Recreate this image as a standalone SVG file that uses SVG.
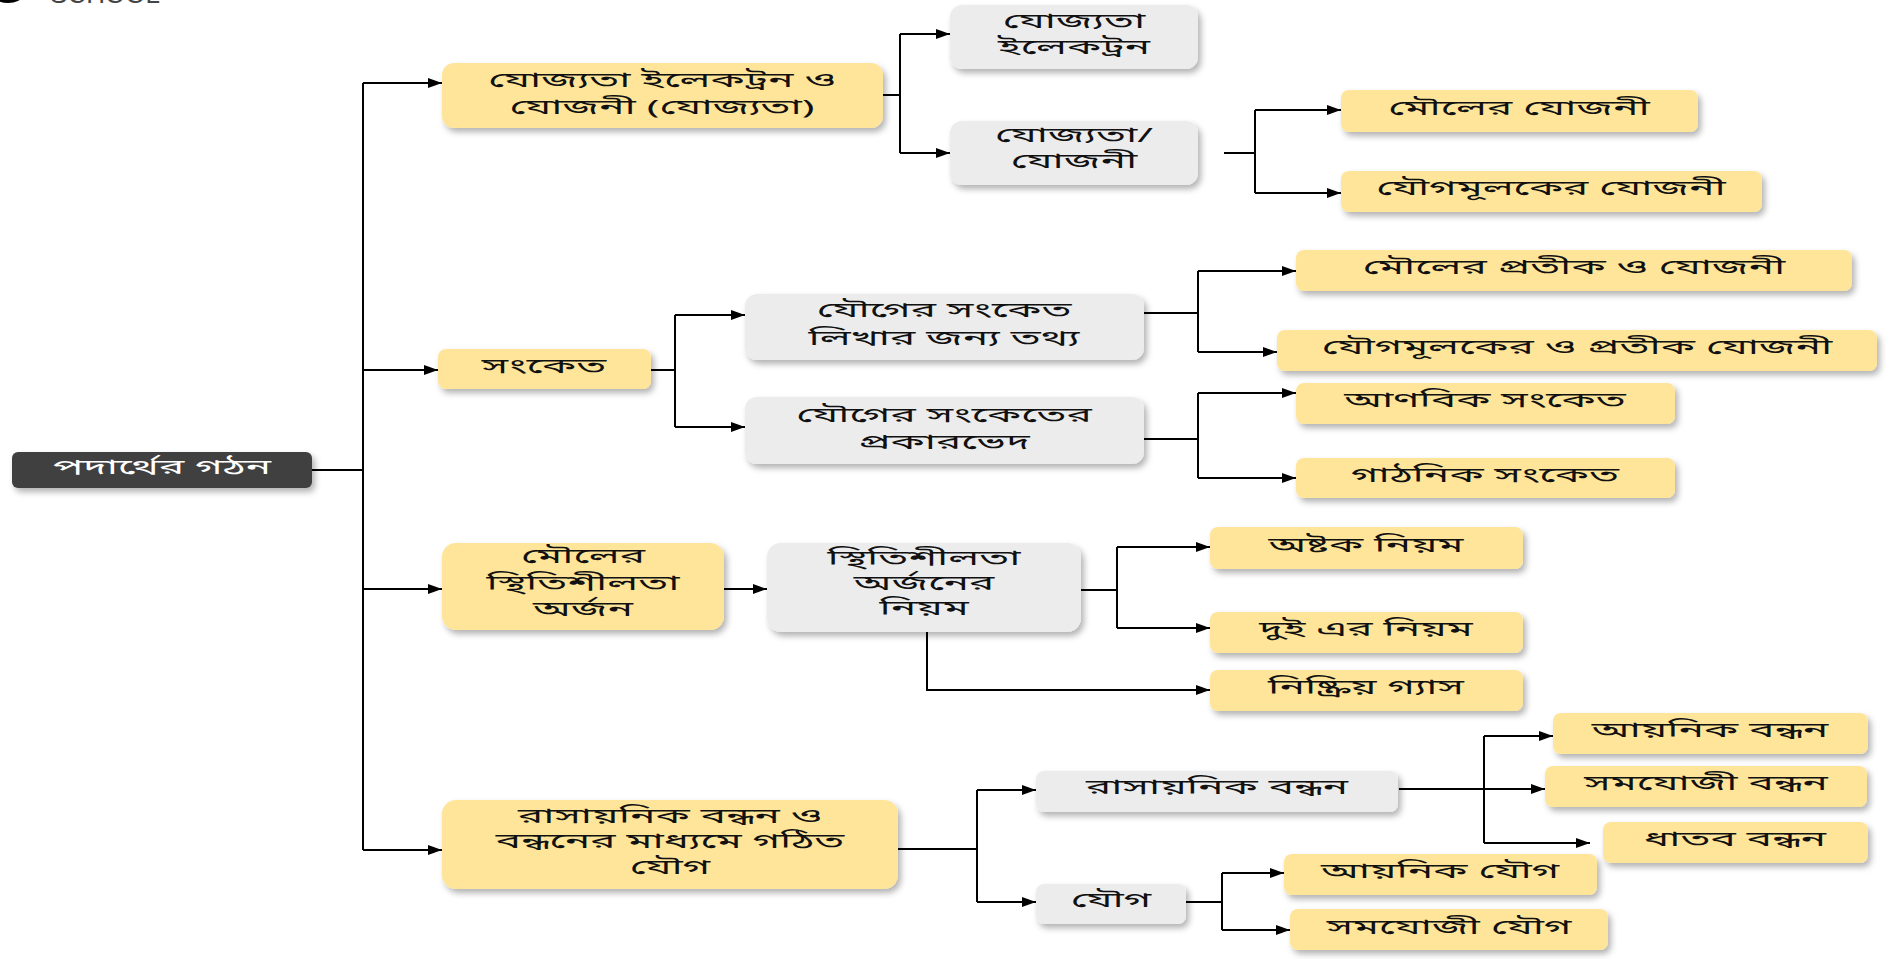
<svg xmlns="http://www.w3.org/2000/svg" width="1888" height="959" viewBox="0 0 1888 959">
<defs>
<filter id="sh" x="-10%" y="-30%" width="130%" height="180%">
<feDropShadow dx="3" dy="4" stdDeviation="3" flood-color="#000" flood-opacity="0.3"/>
</filter>
<marker id="ah" viewBox="0 0 14 10" markerWidth="14" markerHeight="10" refX="14" refY="5" orient="auto" markerUnits="userSpaceOnUse">
<path d="M0,0 L14,5 L0,10 z" fill="#000"/>
</marker>
<style>
.y{fill:#FFE599;filter:url(#sh)}
.g{fill:#ECECEC;filter:url(#sh)}
.d{fill:#404040;filter:url(#sh)}
text{font-family:"Noto Sans Bengali","Lohit Bengali","Noto Sans",sans-serif;font-size:20px;text-anchor:middle;dominant-baseline:central;fill:#111}
.w{fill:#fff}
.c path{fill:none;stroke:#000;stroke-width:2}
.c .a{marker-end:url(#ah)}
</style>
</defs>
<rect width="1888" height="959" fill="#fff"/>
<g id="logo">
<ellipse cx="8" cy="-4" rx="14" ry="7" fill="#000"/>
<text x="105" y="-6" style="font-family:'Liberation Sans',sans-serif;font-size:26px;fill:#444">SCHOOL</text>
</g>
<g class="c" id="connectors">
<path d="M312,470 H363 M363,83 V850"/>
<path class="a" d="M363,83 H442"/>
<path class="a" d="M363,370 H438"/>
<path class="a" d="M363,589 H442"/>
<path class="a" d="M363,850 H442"/>
<path d="M883,95 H900 M900,34 V153"/>
<path class="a" d="M900,34 H950"/>
<path class="a" d="M900,153 H950"/>
<path d="M1224,153 H1255 M1255,110 V193"/>
<path class="a" d="M1255,110 H1341"/>
<path class="a" d="M1255,193 H1341"/>
<path d="M651,370 H675 M675,315 V427"/>
<path class="a" d="M675,315 H745"/>
<path class="a" d="M675,427 H745"/>
<path d="M1144,313 H1198 M1198,271 V352"/>
<path class="a" d="M1198,271 H1296"/>
<path class="a" d="M1198,352 H1277"/>
<path d="M1144,439 H1198 M1198,393 V478"/>
<path class="a" d="M1198,393 H1296"/>
<path class="a" d="M1198,478 H1296"/>
<path class="a" d="M724,589 H767"/>
<path d="M1081,590 H1117 M1117,547 V628"/>
<path class="a" d="M1117,547 H1210"/>
<path class="a" d="M1117,628 H1210"/>
<path class="a" d="M927,632 V690 H1210"/>
<path d="M898,849 H977 M977,790 V902"/>
<path class="a" d="M977,790 H1036"/>
<path class="a" d="M977,902 H1036"/>
<path class="a" d="M1399,789 H1545"/>
<path d="M1484,736 V843"/>
<path class="a" d="M1484,736 H1553"/>
<path class="a" d="M1484,843 H1590"/>
<path d="M1186,902 H1222 M1222,873 V930"/>
<path class="a" d="M1222,873 H1284"/>
<path class="a" d="M1222,930 H1290"/>
</g>
<g id="root"><rect class="d" x="12" y="452" width="300" height="36" rx="6"/><text class="w" transform="translate(162,469) scale(2.12,1)">পদার্থের গঠন</text></g>
<g id="n-a"><rect class="y" x="442" y="63" width="441" height="65" rx="12"/><text transform="translate(662,82) scale(2.12,1)">যোজ্যতা ইলেকট্রন ও</text><text transform="translate(662,109) scale(2.12,1)">যোজনী (যোজ্যতা)</text></g>
<g id="n-a1"><rect class="g" x="950" y="5" width="248" height="64" rx="12"/><text transform="translate(1074,23) scale(2.12,1)">যোজ্যতা</text><text transform="translate(1074,49) scale(2.12,1)">ইলেকট্রন</text></g>
<g id="n-a2"><rect class="g" x="950" y="121" width="248" height="64" rx="12"/><text transform="translate(1074,137) scale(2.12,1)">যোজ্যতা/</text><text transform="translate(1074,163) scale(2.12,1)">যোজনী</text></g>
<g id="n-a2a"><rect class="y" x="1341" y="90" width="357" height="42" rx="8"/><text transform="translate(1519,110) scale(2.12,1)">মৌলের যোজনী</text></g>
<g id="n-a2b"><rect class="y" x="1341" y="171" width="421" height="41" rx="8"/><text transform="translate(1551,190) scale(2.12,1)">যৌগমূলকের যোজনী</text></g>
<g id="n-b"><rect class="y" x="438" y="349" width="213" height="40" rx="8"/><text transform="translate(544,368) scale(2.12,1)">সংকেত</text></g>
<g id="n-b1"><rect class="g" x="745" y="294" width="399" height="66" rx="12"/><text transform="translate(944,312) scale(2.12,1)">যৌগের সংকেত</text><text transform="translate(944,340) scale(2.12,1)">লিখার জন্য তথ্য</text></g>
<g id="n-b2"><rect class="g" x="745" y="397" width="399" height="67" rx="12"/><text transform="translate(944,417) scale(2.12,1)">যৌগের সংকেতের</text><text transform="translate(944,444) scale(2.12,1)">প্রকারভেদ</text></g>
<g id="n-b1a"><rect class="y" x="1296" y="250" width="556" height="41" rx="8"/><text transform="translate(1574,269) scale(2.12,1)">মৌলের প্রতীক ও যোজনী</text></g>
<g id="n-b1b"><rect class="y" x="1277" y="330" width="600" height="41" rx="8"/><text transform="translate(1577,349) scale(2.12,1)">যৌগমূলকের ও প্রতীক যোজনী</text></g>
<g id="n-b2a"><rect class="y" x="1296" y="383" width="379" height="41" rx="8"/><text transform="translate(1485,402) scale(2.12,1)">আণবিক সংকেত</text></g>
<g id="n-b2b"><rect class="y" x="1296" y="458" width="379" height="40" rx="8"/><text transform="translate(1485,477) scale(2.12,1)">গাঠনিক সংকেত</text></g>
<g id="n-c"><rect class="y" x="442" y="543" width="282" height="87" rx="14"/><text transform="translate(583,558) scale(2.12,1)">মৌলের</text><text transform="translate(583,585) scale(2.12,1)">স্থিতিশীলতা</text><text transform="translate(583,611) scale(2.12,1)">অর্জন</text></g>
<g id="n-c1"><rect class="g" x="767" y="543" width="314" height="89" rx="14"/><text transform="translate(924,560) scale(2.12,1)">স্থিতিশীলতা</text><text transform="translate(924,585) scale(2.12,1)">অর্জনের</text><text transform="translate(924,610) scale(2.12,1)">নিয়ম</text></g>
<g id="n-c1a"><rect class="y" x="1210" y="527" width="313" height="42" rx="8"/><text transform="translate(1366,547) scale(2.12,1)">অষ্টক নিয়ম</text></g>
<g id="n-c1b"><rect class="y" x="1210" y="612" width="313" height="41" rx="8"/><text transform="translate(1366,631) scale(2.12,1)">দুই এর নিয়ম</text></g>
<g id="n-c1c"><rect class="y" x="1210" y="670" width="313" height="41" rx="8"/><text transform="translate(1366,689) scale(2.12,1)">নিষ্ক্রিয় গ্যাস</text></g>
<g id="n-d"><rect class="y" x="442" y="800" width="456" height="89" rx="14"/><text transform="translate(670,818) scale(2.12,1)">রাসায়নিক বন্ধন ও</text><text transform="translate(670,843) scale(2.12,1)">বন্ধনের মাধ্যমে গঠিত</text><text transform="translate(670,869) scale(2.12,1)">যৌগ</text></g>
<g id="n-d1"><rect class="g" x="1036" y="771" width="362" height="41" rx="8"/><text transform="translate(1217,789) scale(2.12,1)">রাসায়নিক বন্ধন</text></g>
<g id="n-d2"><rect class="g" x="1036" y="884" width="150" height="40" rx="8"/><text transform="translate(1111,902) scale(2.12,1)">যৌগ</text></g>
<g id="n-d1a"><rect class="y" x="1553" y="713" width="315" height="41" rx="8"/><text transform="translate(1710,732) scale(2.12,1)">আয়নিক বন্ধন</text></g>
<g id="n-d1b"><rect class="y" x="1545" y="766" width="322" height="41" rx="8"/><text transform="translate(1706,785) scale(2.12,1)">সমযোজী বন্ধন</text></g>
<g id="n-d1c"><rect class="y" x="1603" y="822" width="265" height="41" rx="8"/><text transform="translate(1735,841) scale(2.12,1)">ধাতব বন্ধন</text></g>
<g id="n-d2a"><rect class="y" x="1284" y="854" width="313" height="41" rx="8"/><text transform="translate(1440,873) scale(2.12,1)">আয়নিক যৌগ</text></g>
<g id="n-d2b"><rect class="y" x="1290" y="909" width="318" height="41" rx="8"/><text transform="translate(1449,929) scale(2.12,1)">সমযোজী যৌগ</text></g>
</svg>
